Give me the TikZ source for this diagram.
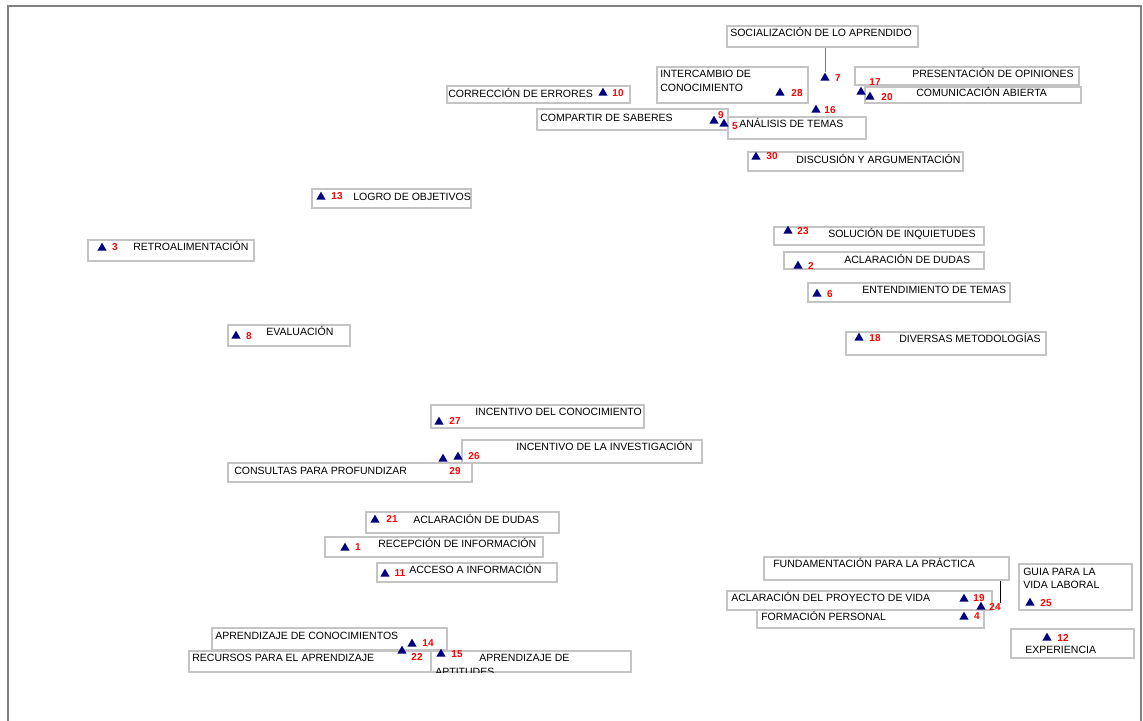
\documentclass[tikz,border=0pt]{standalone}
\usepackage{fontspec}
\setmainfont{Liberation Sans}
\usetikzlibrary{shapes.geometric,fit}
\definecolor{ptblue}{RGB}{0,0,128}
\definecolor{boxgray}{RGB}{196,196,196}
\definecolor{framegray}{RGB}{128,128,128}
\tikzset{
  box/.style={draw=boxgray, line width=0.9pt, inner sep=0pt},
  lbl/.style={anchor=mid west, inner sep=0pt, font=\fontsize{7.9}{9.6}\selectfont},
  pt/.style={regular polygon, regular polygon sides=3, fill=ptblue, inner sep=0pt, minimum size=8pt},
  num/.style={text=red, inner sep=0pt, font=\fontsize{7.5}{9}\selectfont\bfseries},
  lead/.style={draw=framegray, line width=0.6pt}
}
\begin{document}
\begin{tikzpicture}[x=0.75pt, y=-0.75pt]
\useasboundingbox (0,0) rectangle (1143,721);
\draw[framegray, line width=1.2pt] (8,721) |- (1141,6) -- (1141,721);

% label boxes: name / left / top / right / bottom / text x / text y / text
\foreach \n/\l/\t/\r/\b/\x/\y/\s in {
  soc/727/26/918/47/730/33/SOCIALIZACIÓN DE LO APRENDIDO,
  int/657/67/808/103/660/74/INTERCAMBIO DE,
  pre/855/67/1079/85/912/74/PRESENTACIÓN DE OPINIONES,
  com/865/87/1081/103/916/93/COMUNICACIÓN ABIERTA,
  cor/447/86/630/103/448/94/CORRECCIÓN DE ERRORES,
  cmp/537/109/728/130/540/118/COMPARTIR DE SABERES,
  ana/728/117/866/139/739/124/ANÁLISIS DE TEMAS,
  dis/748/152/963/171/796/160/DISCUSIÓN Y ARGUMENTACIÓN,
  log/312/189/471/208/353/197/LOGRO DE OBJETIVOS,
  ret/88/240/254/261/133/247/RETROALIMENTACIÓN,
  eva/228/325/350/346/266/332/EVALUACIÓN,
  sol/774/227/984/245/828/234/SOLUCIÓN DE INQUIETUDES,
  acl/784/252/984/269/844/260/ACLARACIÓN DE DUDAS,
  ent/808/283/1010/302/862/290/ENTENDIMIENTO DE TEMAS,
  div/846/332/1046/355/899/339/DIVERSAS METODOLOGÍAS,
  inc/431/405/644/428/475/412/INCENTIVO DEL CONOCIMIENTO,
  inv/462/440/702/463/516/447/INCENTIVO DE LA INVESTIGACIÓN,
  cns/228/463/472/482/234/471/CONSULTAS PARA PROFUNDIZAR,
  acd/366/512/559/533/413/520/ACLARACIÓN DE DUDAS,
  rec/325/537/543/557/378/544/RECEPCIÓN DE INFORMACIÓN,
  acc/377/563/557/582/409/570/ACCESO A INFORMACIÓN,
  apc/212/628/447/650/215/636/APRENDIZAJE DE CONOCIMIENTOS,
  rcs/189/651/431/672/192/658/RECURSOS PARA EL APRENDIZAJE,
  apt/431/651/631/672/479/658/APRENDIZAJE DE,
  fun/764/557/1009/580/773/564/FUNDAMENTACIÓN PARA LA PRÁCTICA,
  pry/727/591/992/610/731/598/ACLARACIÓN DEL PROYECTO DE VIDA,
  frm/757/610/984/628/761/617/FORMACIÓN PERSONAL,
  gui/1019/564/1132/610/1023/572/GUIA PARA LA,
  exp/1011/629/1134/658/1025/650/EXPERIENCIA}
{
  \node[box, fit={(\l,\t) (\r,\b)}] (b\n) {};
  \node[lbl] (t\n) at (\x,\y) {\s};
}
\node[lbl] (int2) at (660,88) {CONOCIMIENTO};
\node[lbl] (gui2) at (1023,585) {VIDA LABORAL};
\begin{scope}
  \clip (431,651) rectangle (631,672);
  \node[lbl] (apt2) at (435,672) {APTITUDES};
\end{scope}

% points
\foreach \i/\x/\y in {7/825/78, 28/780/93, 17/861/92, 20/870/97, 10/603/93,
  9/714/121, 5/724/124, 16/816/110, 30/756/157, 13/321/197, 3/102/248,
  8/236/336, 23/788/231, 2/798/266, 6/817/294, 18/859/338, 27/439/422,
  26/458/457, 29/443/459, 21/375/520, 1/345/548, 11/385/574, 14/412/644,
  22/402/651, 15/441/654, 19/964/599, 24/981/607, 4/964/617, 25/1030/603,
  12/1047/638}
  \node[pt] (p\i) at (\x,\y) {};

% point numbers
\foreach \i/\x/\y in {7/838/78, 28/797/93, 17/875/82, 20/887/97, 10/618/93,
  9/721/115, 5/735/126, 16/830/110, 30/772/156, 13/337/196, 3/115/247,
  8/249/336, 23/803/231, 2/811/266, 6/830/294, 18/875/338, 27/455/421,
  26/474/456, 29/455/471, 21/392/519, 1/358/547, 11/400/573, 14/428/643,
  22/417/657, 15/457/654, 19/979/598, 24/995/607, 4/977/616, 25/1046/603,
  12/1063/638}
  \node[num] (n\i) at (\x,\y) {\i};

% leaders
\draw[lead] (bsoc.south -| p7) -- (p7.north);
\draw[lead, draw=black] (bfun.south -| n24.north east) -- (n24.north east);
\end{tikzpicture}
\end{document}
